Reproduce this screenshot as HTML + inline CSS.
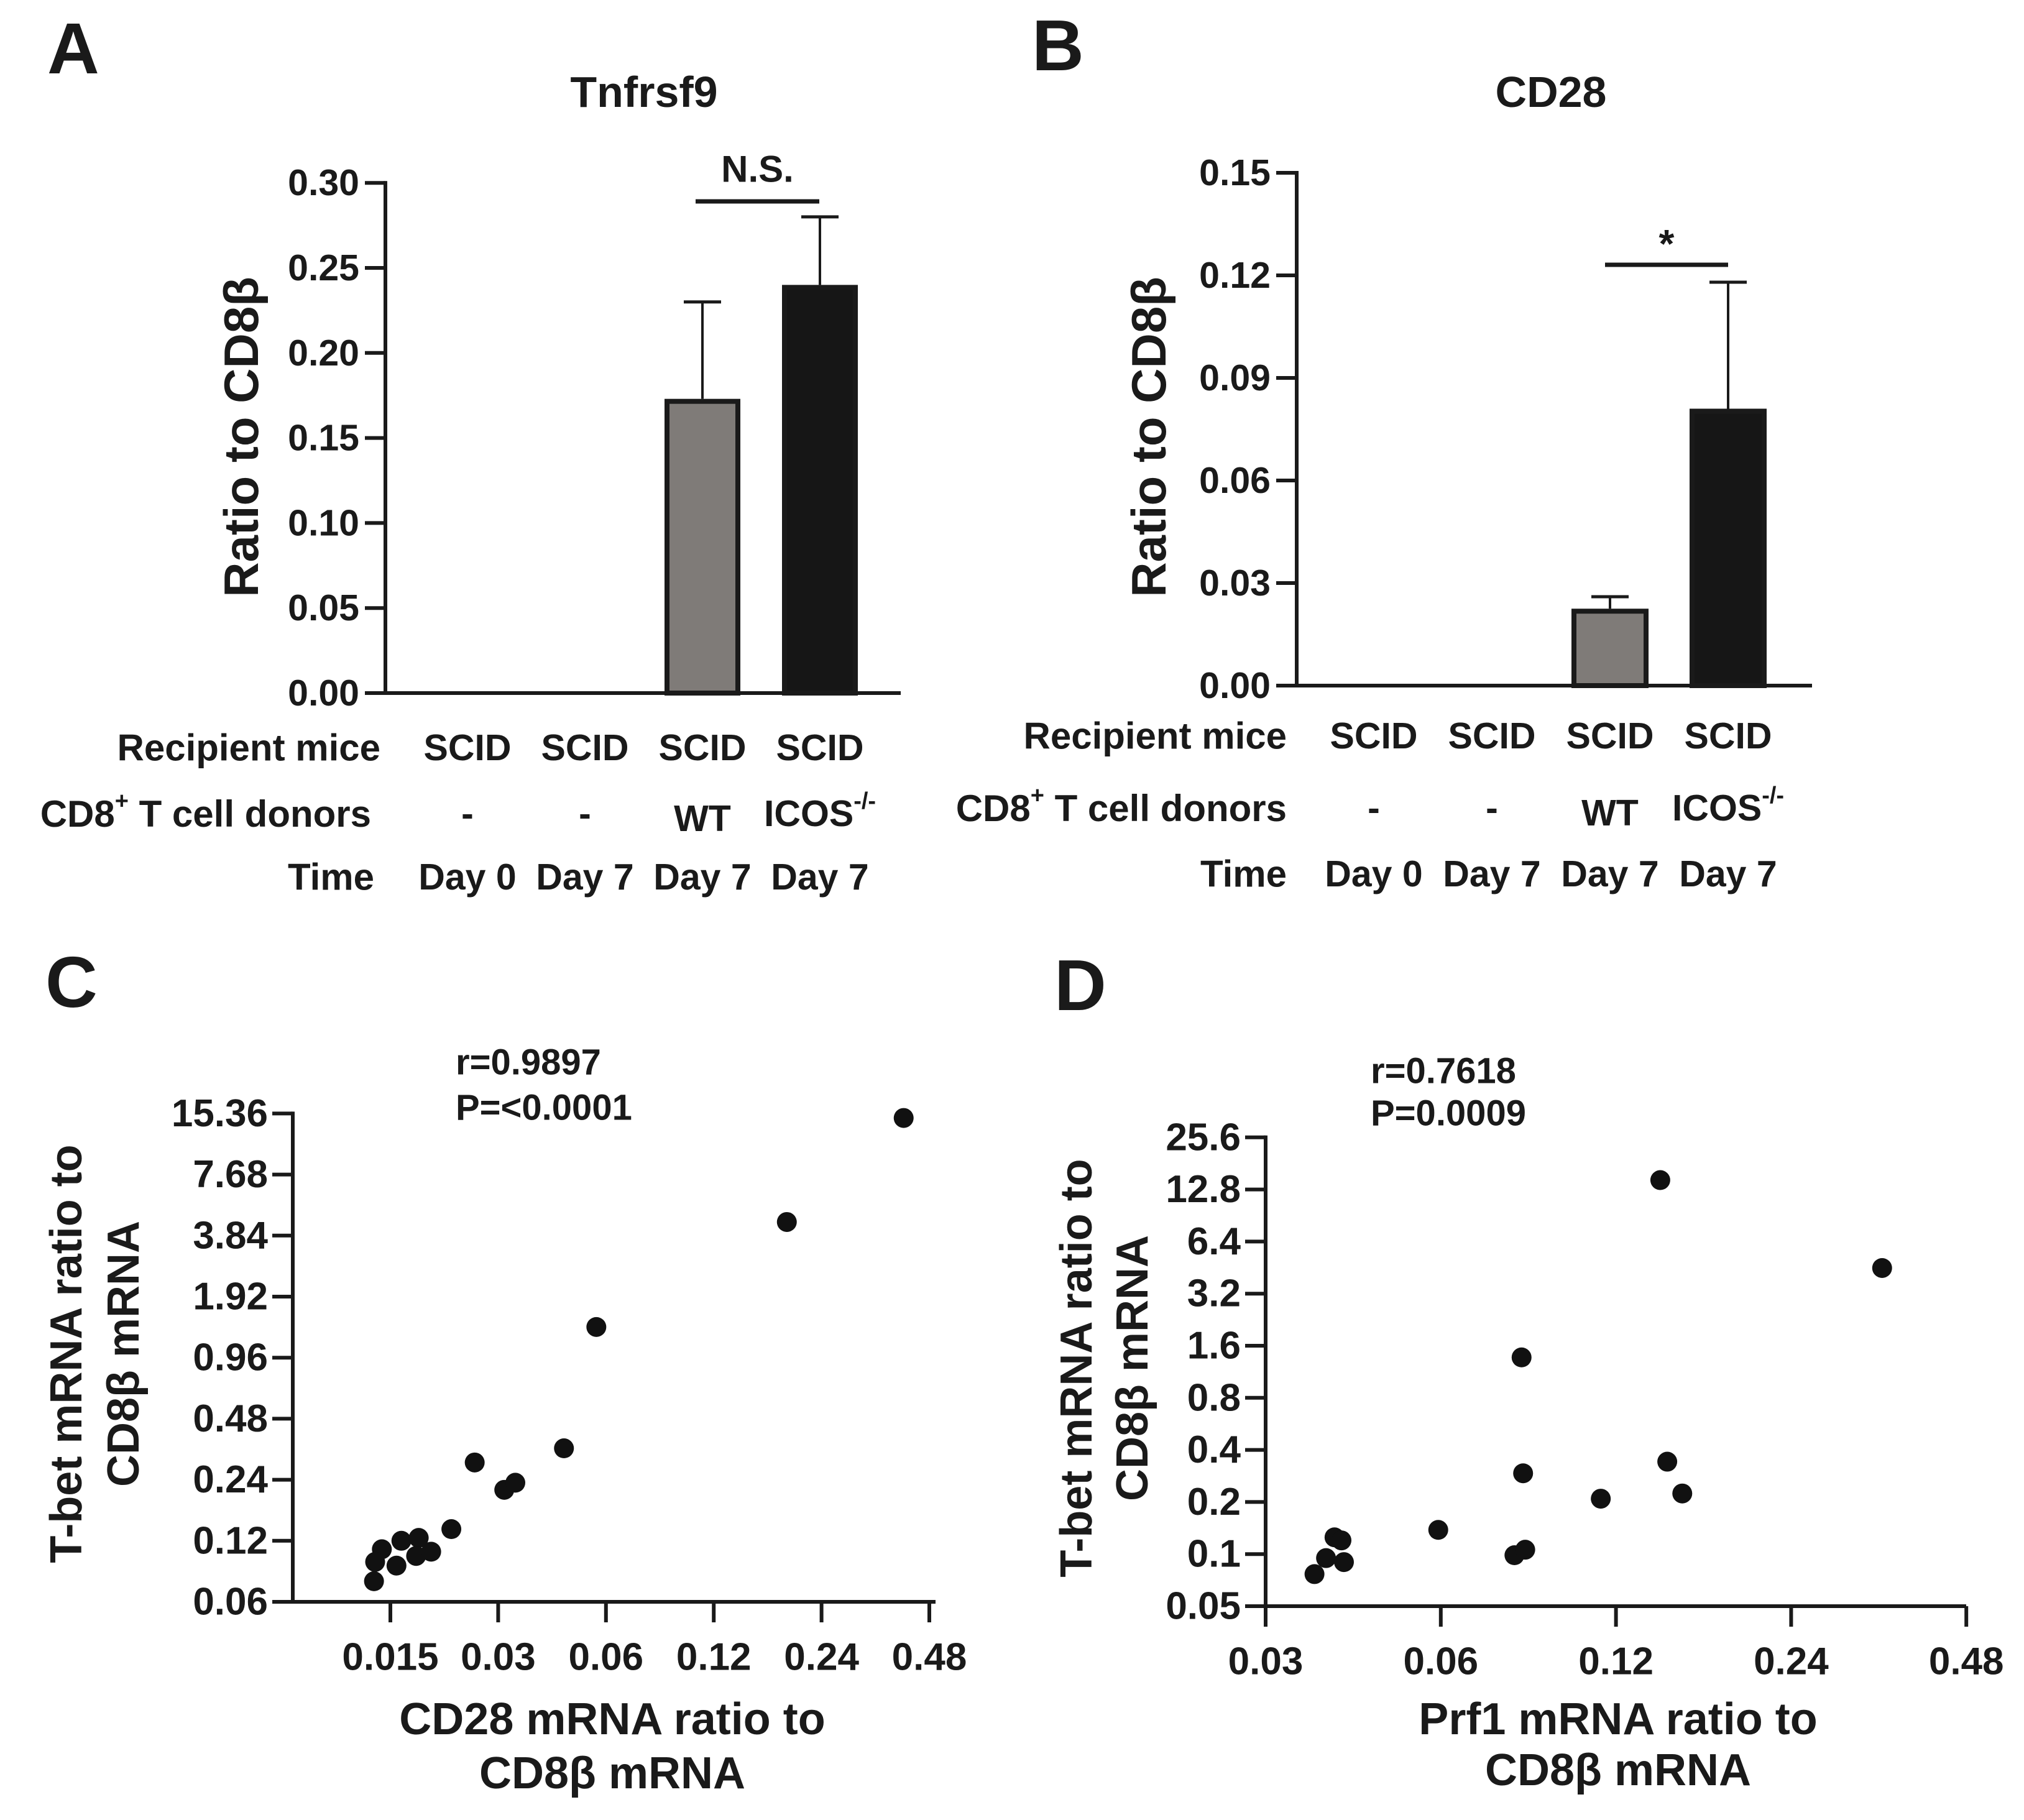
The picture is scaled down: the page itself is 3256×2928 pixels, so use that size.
<!DOCTYPE html>
<html><head><meta charset="utf-8"><style>
html,body{margin:0;padding:0;background:#fff}
svg{display:block}
text{font-family:"Liberation Sans",Arial,sans-serif;font-weight:bold;fill:#1a1a1a}
</style></head><body>
<svg id="fig" width="3256" height="2928" viewBox="0 0 3256 2928" xmlns="http://www.w3.org/2000/svg">
<g id="pA"></g>
<g id="pB"></g>
<g id="pC"></g>
<g id="pD"></g>
</svg>
<script>
// ---- Panel A data ----
const aCategories = ["Day 0", "Day 7", "WT Day 7", "ICOS-/- Day 7"];
const aValues = [0, 0, 0.173, 0.240];
const aErrors = [0, 0, 0.057, 0.040];
const aTicks = [0, 0.05, 0.10, 0.15, 0.20, 0.25, 0.30];
const aTickLabels = ["0.00","0.05","0.10","0.15","0.20","0.25","0.30"];
// ---- Panel B data ----
const bCategories = ["Day 0", "Day 7", "WT Day 7", "ICOS-/- Day 7"];
const bValues = [0, 0, 0.0225, 0.081];
const bErrors = [0, 0, 0.0035, 0.037];
const bTicks = [0, 0.03, 0.06, 0.09, 0.12, 0.15];
const bTickLabels = ["0.00","0.03","0.06","0.09","0.12","0.15"];
// shared row labels
const rowRecipient = ["SCID","SCID","SCID","SCID"];
const rowDonor = ["-","-","WT","ICOS"];
const rowTime = ["Day 0","Day 7","Day 7","Day 7"];
const barFills = ["#7f7b78","#7f7b78","#7f7b78","#161616"];
// ---- Panel C data ----
const cX = [0.407,0.192,0.0564,0.0458,0.0258,0.0312,0.0335,0.0222,0.0161,0.0142,0.0136,0.0135,0.0156,0.0180,0.0177,0.0195];
const cY = [14.6,4.48,1.36,0.343,0.292,0.214,0.232,0.137,0.120,0.109,0.0944,0.0758,0.0905,0.124,0.101,0.106];
const cYTicks = [0.06,0.12,0.24,0.48,0.96,1.92,3.84,7.68,15.36];
const cYTickLabels = ["0.06","0.12","0.24","0.48","0.96","1.92","3.84","7.68","15.36"];
const cXTicks = [0.015,0.03,0.06,0.12,0.24,0.48];
const cXTickLabels = ["0.015","0.03","0.06","0.12","0.24","0.48"];
// ---- Panel D data ----
const dX = [0.143,0.344,0.0826,0.147,0.0831,0.156,0.113,0.0594,0.0803,0.0838,0.0394,0.0405,0.0381,0.0409,0.0364];
const dY = [14.5,4.5,1.37,0.342,0.293,0.224,0.209,0.138,0.0985,0.106,0.125,0.120,0.0948,0.0899,0.0766];
const dYTicks = [0.05,0.1,0.2,0.4,0.8,1.6,3.2,6.4,12.8,25.6];
const dYTickLabels = ["0.05","0.1","0.2","0.4","0.8","1.6","3.2","6.4","12.8","25.6"];
const dXTicks = [0.03,0.06,0.12,0.24,0.48];
const dXTickLabels = ["0.03","0.06","0.12","0.24","0.48"];

const NS = "http://www.w3.org/2000/svg";
function mk(parent, tag, attrs, txt){
  const e = document.createElementNS(NS, tag);
  for (const k in attrs) e.setAttribute(k, attrs[k]);
  if (txt !== undefined) e.textContent = txt;
  parent.appendChild(e);
  return e;
}
function line(p,x1,y1,x2,y2,w){return mk(p,"line",{x1,y1,x2,y2,stroke:"#1a1a1a","stroke-width":w,"stroke-linecap":"butt"});}

function barPanel(g, o){
  const yv = v => o.y0 - v*o.ppu;
  const xc = i => o.x0 + i*o.band;
  let t = mk(g,"text",{x:o.letterX,y:o.letterY,"font-size":116},o.letter);
   
  t = mk(g,"text",{x:o.titleX,y:o.titleY,"font-size":70,"text-anchor":"middle","dominant-baseline":"central"},o.title);
   
  t = mk(g,"text",{x:0,y:0,"font-size":78,"text-anchor":"middle","dominant-baseline":"central",transform:`translate(${o.ytX},${o.ytY}) rotate(-90)`},"Ratio to CD8β");
   
  for (let i=0;i<o.values.length;i++){
    if (o.values[i] <= 0) continue;
    const x = xc(i)-o.bw/2, top = yv(o.values[i]);
    const eTop = yv(o.values[i]+o.errors[i]);
    const el = line(g,xc(i),top,xc(i),eTop,4);
     
    const cap = line(g,xc(i)-o.cap/2,eTop,xc(i)+o.cap/2,eTop,5);
     
    const r = mk(g,"rect",{x:x+4,y:top+4,width:o.bw-8,height:o.y0-top-4,fill:o.fills[i],stroke:"#1a1a1a","stroke-width":8});
     
  }
  let ax = line(g,o.axX,yv(o.ticks[o.ticks.length-1])-3,o.axX,o.y0+3,6);
   
  ax = line(g,o.axX-33,o.y0,o.xEnd,o.y0,6);
   
  for (let i=0;i<o.ticks.length;i++){
    const y = yv(o.ticks[i]);
    const tk = line(g,o.axX-33,y,o.axX,y,6);
     
    const tl = mk(g,"text",{x:o.axX-42,y:y,"font-size":59,"text-anchor":"end","dominant-baseline":"central"},o.tickLabels[i]);
     
  }
  const sl = line(g,o.sigX1,o.sigY,o.sigX2,o.sigY,7);
   
  const st = mk(g,"text",{x:(o.sigX1+o.sigX2)/2,y:o.sigTextY,"font-size":o.sigSize,"text-anchor":"middle","dominant-baseline":"central"},o.sigText);
   
  const heads = [["Recipient mice",o.rowY[0],o.hx[0]],["CD8",o.rowY[1],o.hx[1]],["Time",o.rowY[2],o.hx[2]]];
  heads.forEach((h,k)=>{
    const ht = mk(g,"text",{x:h[2],y:h[1],"font-size":60,"text-anchor":"end","dominant-baseline":"central"});
     
    if (k===1){
      mk(ht,"tspan",{},"CD8");
      mk(ht,"tspan",{"font-size":38,dy:-20},"+");
      mk(ht,"tspan",{dy:20}," T cell donors");
    } else ht.textContent = h[0];
  });
  const rows = [rowRecipient,rowDonor,rowTime];
  rows.forEach((row,k)=>{
    row.forEach((s,i)=>{
      const ct = mk(g,"text",{x:xc(i),y:o.rowY[k]+(k===1&&i===2?8:0),"font-size":59,"text-anchor":"middle","dominant-baseline":"central"});
       
      if (k===1 && i===3){
        mk(ct,"tspan",{},"ICOS");
        mk(ct,"tspan",{"font-size":38,dy:-20},"-/-");
      } else ct.textContent = s;
    });
  });
}

barPanel(document.getElementById("pA"), {
  letter:"A", letterX:76, letterY:118, title:"Tnfrsf9", titleX:1036, titleY:148,
  ytX:388, ytY:703, values:aValues, errors:aErrors, ticks:aTicks, tickLabels:aTickLabels,
  y0:1115, ppu:2736, axX:620, xEnd:1449, x0:752, band:189, bw:122, cap:60, fills:barFills,
  sigX1:1119, sigX2:1318, sigY:324, sigTextY:272, sigText:"N.S.", sigSize:60,
  rowY:[1203,1309,1411], hx:[612,597,602]
});
barPanel(document.getElementById("pB"), {
  letter:"B", letterX:1660, letterY:113, title:"CD28", titleX:2495, titleY:148,
  ytX:1848, ytY:703, values:bValues, errors:bErrors, ticks:bTicks, tickLabels:bTickLabels,
  y0:1103, ppu:5500, axX:2086, xEnd:2915, x0:2210, band:190, bw:124, cap:60, fills:barFills,
  sigX1:2582, sigX2:2780, sigY:426, sigTextY:392, sigText:"*", sigSize:64,
  rowY:[1184,1300,1406], hx:[2070,2070,2070]
});

function scatterPanel(g, o){
  const xv = v => o.xRef + o.xStep*Math.log2(v/o.xRefV);
  const yv = v => o.yRef - o.yStep*Math.log2(v/o.yRefV);
  let t = mk(g,"text",{x:o.letterX,y:o.letterY,"font-size":116},o.letter);
   
  t = mk(g,"text",{x:o.statX,y:o.rY,"font-size":58,"dominant-baseline":"central"},o.rText);
   
  t = mk(g,"text",{x:o.statX,y:o.pY,"font-size":58,"dominant-baseline":"central"},o.pText);
   
  const yt = mk(g,"text",{x:0,y:0,"font-size":72,"text-anchor":"middle","dominant-baseline":"central",transform:`translate(${o.ytX1},${o.ytY}) rotate(-90)`},"T-bet mRNA ratio to");
   
  const yt2 = mk(g,"text",{x:0,y:0,"font-size":72,"text-anchor":"middle","dominant-baseline":"central",transform:`translate(${o.ytX2},${o.ytY}) rotate(-90)`},"CD8β mRNA");
   
  const xt = mk(g,"text",{x:o.xtX,y:o.xtY1,"font-size":72,"text-anchor":"middle","dominant-baseline":"central"},o.xTitle);
   
  const xt2 = mk(g,"text",{x:o.xtX,y:o.xtY2,"font-size":72,"text-anchor":"middle","dominant-baseline":"central"},"CD8β mRNA");
   
  const yTop = yv(o.yTicks[o.yTicks.length-1]);
  let ax = line(g,o.axX,yTop-3,o.axX,o.axY+3,6);
   
  ax = line(g,o.axX-3,o.axY,o.xEnd,o.axY,6);
   
  o.yTicks.forEach((v,i)=>{
    const y = yv(v);
    const tk = line(g,o.axX-33,y,o.axX,y,6);
     
    const tl = mk(g,"text",{x:o.axX-40,y:y,"font-size":62,"text-anchor":"end","dominant-baseline":"central"},o.yTickLabels[i]);
     
  });
  o.xTicks.forEach((v,i)=>{
    const x = xv(v);
    const tk = line(g,x,o.axY,x,o.axY+33,6);
     
    const tl = mk(g,"text",{x:x,y:o.axY+89,"font-size":62,"text-anchor":"middle","dominant-baseline":"central"},o.xTickLabels[i]);
     
  });
  o.xs.forEach((v,i)=>{
    const c = mk(g,"circle",{cx:xv(v),cy:yv(o.ys[i]),r:16,fill:"#111"});
     
  });
}

scatterPanel(document.getElementById("pC"), {
  letter:"C", letterX:73, letterY:1620, statX:733, rY:1709, pY:1782,
  rText:"r=0.9897", pText:"P=<0.0001",
  ytX1:107, ytX2:199, ytY:2178, xtX:985, xtY1:2766, xtY2:2853, xTitle:"CD28 mRNA ratio to",
  axX:471, axY:2577, xEnd:1505,
  xRef:628, xRefV:0.015, xStep:173.4, yRef:2577, yRefV:0.06, yStep:98.2,
  yTicks:cYTicks, yTickLabels:cYTickLabels, xTicks:cXTicks, xTickLabels:cXTickLabels, xs:cX, ys:cY
});
scatterPanel(document.getElementById("pD"), {
  letter:"D", letterX:1696, letterY:1625, statX:2205, rY:1723, pY:1791,
  rText:"r=0.7618", pText:"P=0.0009",
  ytX1:1732, ytX2:1822, ytY:2201, xtX:2603, xtY1:2766, xtY2:2848, xTitle:"Prf1 mRNA ratio to",
  axX:2036, axY:2584, xEnd:3163,
  xRef:2036, xRefV:0.03, xStep:281.8, yRef:2584, yRefV:0.05, yStep:83.8,
  yTicks:dYTicks, yTickLabels:dYTickLabels, xTicks:dXTicks, xTickLabels:dXTickLabels, xs:dX, ys:dY
});
</script>
</body></html>
